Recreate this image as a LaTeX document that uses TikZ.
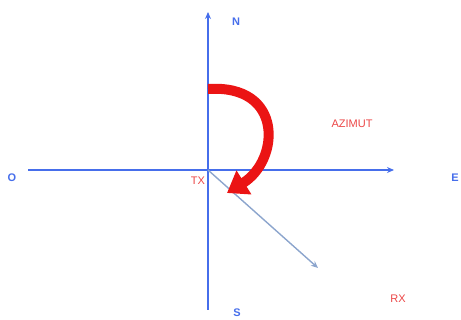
\documentclass[tikz,border=0pt]{standalone}
\usepackage{fontspec}
\setmainfont{Liberation Sans}
\usetikzlibrary{arrows.meta, positioning}
\definecolor{AxisBlue}{RGB}{70,110,235}
\definecolor{RayBlue}{RGB}{140,165,205}
\definecolor{AzRed}{RGB}{235,20,20}
\definecolor{LabelRed}{RGB}{235,70,70}

\begin{document}
\begin{tikzpicture}[x=1pt, y=-1pt,
    axis/.style={draw=AxisBlue, line width=1.4pt},
    ray/.style={draw=RayBlue, line width=1.4pt, -{Stealth[length=7pt, width=6pt]}},
    turn/.style={draw=AzRed, line width=10pt, -{Triangle[length=20pt, width=27pt]}},
    cardinal/.style={text=AxisBlue, font=\bfseries\fontsize{11}{13}\selectfont, inner sep=0pt},
    tag/.style={text=LabelRed, font=\fontsize{11}{13}\selectfont, inner sep=0pt}
]
\useasboundingbox (0,0) rectangle (461,320);
\coordinate (tx) at (208,170);
\coordinate (west) at (28,170);
\coordinate (east) at (394,170);
\coordinate (north) at (208,12);
\coordinate (south) at (208,310);
\coordinate (rx) at (318,268);
\coordinate (turnstart) at (208,89);

\draw[axis] (west) -- (tx);
\draw[axis, -{Stealth[length=7pt, width=6pt]}] (tx) -- (east);
\draw[axis] (south) -- (tx);
\draw[axis, -{Stealth[length=7pt, width=6pt]}] (tx) -- (north);
\draw[ray] (tx) -- (rx);

% azimuth arrow
\draw[turn] (turnstart) .. controls (284,84) and (280,160) .. (227,193);

\node[cardinal] (n) at (236,22) {N};
\node[cardinal] (s) at (237,313) {S};
\node[cardinal] (o) at (12,178) {O};
\node[cardinal] (e) at (455,178) {E};
\node[tag] (txlabel) at (198,181) {TX};
\node[tag] (rxlabel) at (398,299) {RX};
\node[tag] (azimut) at (352,124) {AZIMUT};
\end{tikzpicture}
\end{document}
